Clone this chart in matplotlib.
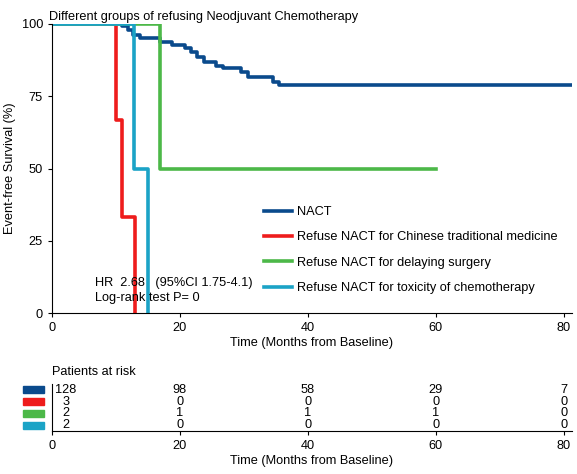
import matplotlib.pyplot as plt
from matplotlib.patches import Rectangle

plt.rcParams['font.family'] = ['Liberation Sans', 'DejaVu Sans']

NACT_T = [0, 10.9, 11.9, 12.7, 13.75, 16.9, 18.7, 20.8, 21.8, 22.6, 23.75, 25.6,
          26.8, 29.6, 30.7, 34.5, 35.5, 81.3]
NACT_S = [100, 99.2, 97.9, 96.2, 95.3, 93.7, 92.7, 91.8, 90.2, 88.7, 87.0, 85.6,
          84.9, 83.5, 81.5, 80.1, 78.9, 78.9]
TCM_T = [0, 10.0, 10.9, 13.0]
TCM_S = [100, 66.7, 33.3, 0]
SURG_T = [0, 16.9, 60.0]
SURG_S = [100, 50, 50]
TOX_T = [0, 12.8, 15.0]
TOX_S = [100, 50, 0]

LABELS = ['NACT', 'Refuse NACT for Chinese traditional medicine',
          'Refuse NACT for delaying surgery', 'Refuse NACT for toxicity of chemotherapy']
COLORS = ['#0a4a8c', '#ee1c1c', '#4cb848', '#1ba3c6']

RISK_TIMES = [0, 20, 40, 60, 80]
RISK = [[128, 98, 58, 29, 7],
        [3, 0, 0, 0, 0],
        [2, 1, 1, 1, 0],
        [2, 0, 0, 0, 0]]

FS = 9.2
W, H = 577, 474
fig = plt.figure(figsize=(W / 100, H / 100), dpi=100)
ax = fig.add_axes([52 / W, 1 - 313 / H, 520 / W, 289 / H])

series = [(NACT_T, NACT_S), (TCM_T, TCM_S), (SURG_T, SURG_S), (TOX_T, TOX_S)]
for (t, s), c, lab in zip(series, COLORS, LABELS):
    ax.step(t, s, where='post', color=c, lw=2.6, label=lab)

ax.set_xlim(0, 81.3)
ax.set_ylim(0, 100)
ax.set_xticks([0, 20, 40, 60, 80])
ax.set_yticks([0, 25, 50, 75, 100])
ax.spines['top'].set_visible(False)
ax.spines['right'].set_visible(False)
ax.tick_params(labelsize=FS, length=3)
ax.set_xlabel('Time (Months from Baseline)', fontsize=FS, labelpad=2)
ax.set_ylabel('Event-free Survival (%)', fontsize=FS)
ax.set_title('Different groups of refusing Neodjuvant Chemotherapy', fontsize=FS,
             loc='left', x=-0.005, pad=3)
ax.legend(loc='upper left', bbox_to_anchor=(0.385, 0.41), frameon=False, fontsize=FS,
          handlelength=2.2, labelspacing=1.05, handletextpad=0.4)
ax.text(6.7, 9.5, 'HR  2.68   (95%CI 1.75-4.1)', fontsize=FS)
ax.text(6.7, 4.0, 'Log-rank test P= 0', fontsize=FS)

rax = fig.add_axes([52 / W, 1 - 431 / H, 520 / W, 47 / H])
rax.set_xlim(0, 81.3)
rax.set_ylim(4, 0)
for i, row in enumerate(RISK):
    for t, n in zip(RISK_TIMES, row):
        x = t + 2.2 if t == 0 else t
        rax.text(x, i + 0.5, str(n), ha='center', va='center', fontsize=FS)
    rax.add_patch(Rectangle((-4.6, i + 0.2), 3.4, 0.6, color=COLORS[i], clip_on=False))
rax.set_yticks([])
rax.set_xticks([0, 20, 40, 60, 80])
rax.spines['top'].set_visible(False)
rax.spines['right'].set_visible(False)
rax.tick_params(labelsize=FS, length=3)
rax.set_xlabel('Time (Months from Baseline)', fontsize=FS, labelpad=2)
fig.text(52 / W, 1 - 372 / H, 'Patients at risk', fontsize=FS, va='center')

fig.savefig('out.png', dpi=100)
